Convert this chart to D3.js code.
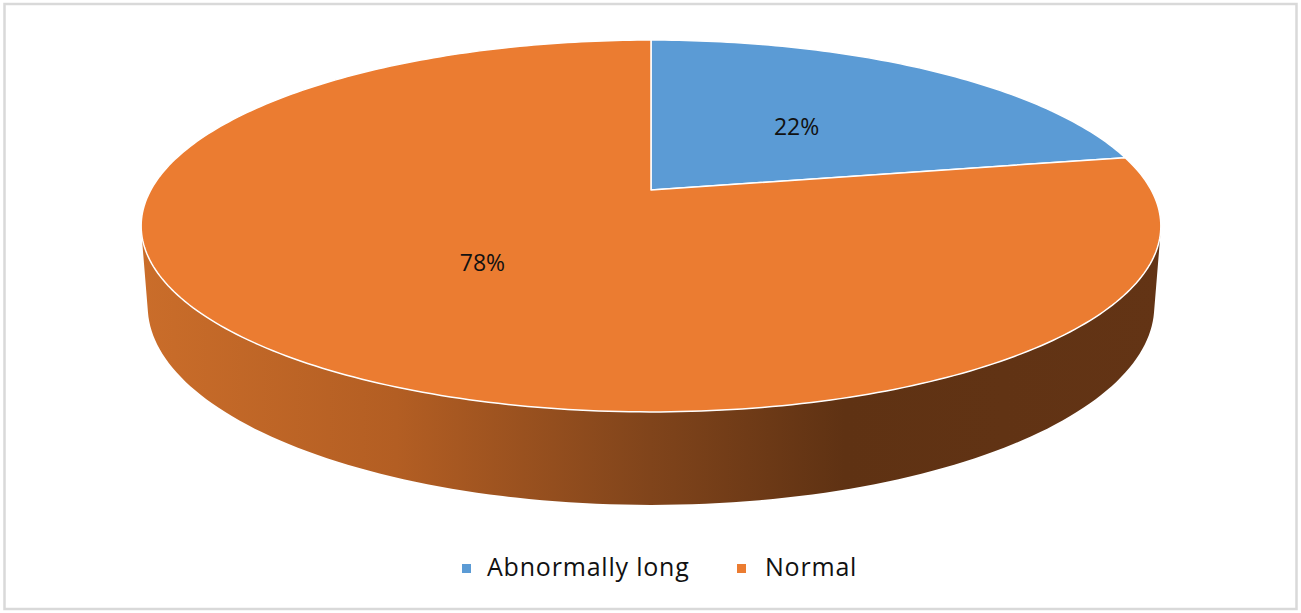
<!DOCTYPE html>
<html>
<head>
<meta charset="utf-8">
<script src="https://cdn.jsdelivr.net/npm/d3@7.9.0/dist/d3.min.js"></script>
<style>
  body { margin: 0; background: #fff; }
  text { font-family: "Open Sans", sans-serif; }
</style>
</head>
<body>
<svg id="chart"></svg>
<script>
const categories = ['Abnormally long', 'Normal'];
const shares = [22, 78];
const labels = ['22%', '78%'];
const sliceColors = ['#5b9bd5', '#eb7c31'];

const width = 1301;
const height = 613;

// camera for the tilted pie (fitted to the picture)
const cam = { cx: 651, cy: 190, f: 2414, dist: 4.826, tilt: Math.asin(0.3578), depth: 0.169 };

function project(theta, r, y) {
  const X = r * Math.sin(theta);
  const Z = r * Math.cos(theta);
  const xc = X;
  const yc = y * Math.cos(cam.tilt) + Z * Math.sin(cam.tilt);
  const zc = cam.dist + Z * Math.cos(cam.tilt) - y * Math.sin(cam.tilt);
  return [cam.cx + cam.f * xc / zc, cam.cy - cam.f * yc / zc];
}

const svg = d3.select('#chart')
  .attr('width', width)
  .attr('height', height);

svg.append('rect')
  .attr('x', 4.5).attr('y', 4)
  .attr('width', 1292).attr('height', 605)
  .attr('fill', '#fff')
  .attr('stroke', '#d9d9d9')
  .attr('stroke-width', 2.5);

const defs = svg.append('defs');
const grad = defs.append('linearGradient')
  .attr('id', 'side')
  .attr('gradientUnits', 'userSpaceOnUse')
  .attr('x1', 141).attr('x2', 1161).attr('y1', 0).attr('y2', 0);
[[0, '#ca6d2a'], [0.25, '#b35e23'], [0.5, '#80441b'], [0.69, '#5f3213'], [1, '#633415']]
  .forEach(([o, c]) => grad.append('stop').attr('offset', o).attr('stop-color', c));

const arcs = d3.pie().sort(null).value((d) => d)(shares);
const line = d3.line();

// visible wall of the cylinder
const edge = Math.acos(-1 / (cam.dist * Math.cos(cam.tilt)));
const wallAngles = d3.range(0, 121).map((i) => edge + (2 * Math.PI - 2 * edge) * i / 120);
const wallPts = wallAngles.map((t) => project(t, 1, 0))
  .concat(wallAngles.slice().reverse().map((t) => project(t, 1, -cam.depth)));

svg.append('path')
  .attr('d', line(wallPts) + 'Z')
  .attr('fill', 'url(#side)');

// top faces
svg.append('g')
  .selectAll('path')
  .data(arcs)
  .join('path')
  .attr('d', (d) => {
    const n = Math.max(8, Math.ceil((d.endAngle - d.startAngle) * 60));
    const pts = [project(0, 0, 0)];
    for (let i = 0; i <= n; i++) {
      pts.push(project(d.startAngle + (d.endAngle - d.startAngle) * i / n, 1, 0));
    }
    return line(pts) + 'Z';
  })
  .attr('fill', (d, i) => sliceColors[i])
  .attr('stroke', '#fff')
  .attr('stroke-width', 1.5)
  .attr('stroke-linejoin', 'round');

// data labels
svg.append('g')
  .selectAll('text')
  .data(arcs)
  .join('text')
  .attr('x', (d) => project((d.startAngle + d.endAngle) / 2, 0.49, 0)[0])
  .attr('y', (d) => project((d.startAngle + d.endAngle) / 2, 0.49, 0)[1])
  .attr('dy', '0.36em')
  .attr('text-anchor', 'middle')
  .attr('font-size', 23)
  .attr('fill', '#111')
  .text((d, i) => labels[i]);

// legend
const legendX = [462, 737];
const legend = svg.append('g')
  .selectAll('g')
  .data(categories)
  .join('g')
  .attr('transform', (d, i) => `translate(${legendX[i]},564)`);

legend.append('rect')
  .attr('width', 9).attr('height', 9)
  .attr('fill', (d, i) => sliceColors[i]);

legend.append('text')
  .attr('x', (d, i) => (i === 0 ? 25 : 28))
  .attr('y', 12)
  .attr('font-size', 25)
  .attr('letter-spacing', 0.8)
  .attr('fill', '#111')
  .text((d) => d);
</script>
</body>
</html>
